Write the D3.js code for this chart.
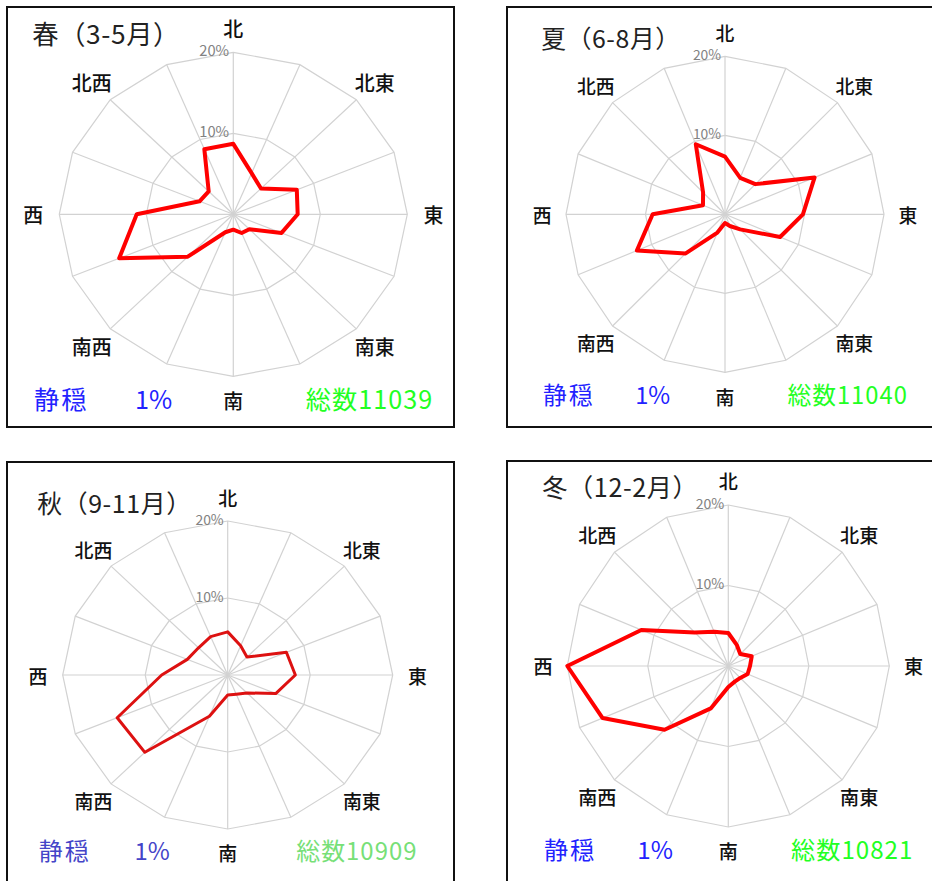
<!DOCTYPE html>
<html>
<head>
<meta charset="utf-8">
<script src="https://cdn.jsdelivr.net/npm/d3@7"></script>
<style>
  body { margin: 0; background: #fff; }
  svg { display: block; font-family: "Noto Sans CJK JP", "Noto Sans", sans-serif; }
</style>
</head>
<body>
<svg width="932" height="881"></svg>
<script>
// 16 directions clockwise from north, values in %
const dirLabels = ["北", "北東", "東", "南東", "南", "南西", "西", "北西"];
const seasonTitles = ["春（3-5月）", "夏（6-8月）", "秋（9-11月）", "冬（12-2月）"];
const totals = [11039, 11040, 10909, 10821];
const calmPct = [1, 1, 1, 1];
const ringTicks = [10, 20];

const spring = [8.7, 5.5, 4.5, 7.9, 7.4, 6.0, 2.6, 2.5, 1.9, 2.4, 7.4, 14.2, 11.1, 4.2, 4.0, 8.7];
const summer = [7.3, 5.0, 5.4, 12.2, 9.8, 7.5, 2.7, 1.6, 1.1, 2.5, 7.0, 12.0, 9.1, 3.0, 3.9, 9.6];
const autumn = [5.6, 4.1, 3.3, 7.7, 8.2, 6.3, 3.3, 2.7, 2.6, 5.8, 14.2, 14.5, 8.0, 5.3, 5.0, 5.4];
const winter = [4.1, 2.8, 2.1, 3.15, 2.7, 2.6, 2.1, 2.1, 2.6, 5.7, 11.2, 16.9, 20.0, 11.7, 5.9, 4.6];
const seasonValues = [spring, summer, autumn, winter];

// layout of the four pictures (each was scaled a little differently)
const panels = [
  {cx: 233.3, cy: 214.3, rx: 174, ry: 162, box: [7, 7, 454, 427], red: "#ff0000", blue: "#2222ff", green: "#22ff22", lw: 4},
  {cx: 725, cy: 214.3, rx: 159, ry: 158, box: [507, 7, 940, 427], red: "#ff0000", blue: "#2222ff", green: "#22ff22", lw: 4},
  {cx: 227.7, cy: 675, rx: 165, ry: 154, box: [7, 462, 454, 890], red: "#dd1111", blue: "#4444c8", green: "#77e077", lw: 3},
  {cx: 728.3, cy: 666, rx: 161, ry: 161, box: [507, 461, 940, 890], red: "#ff0000", blue: "#2222ff", green: "#22ff22", lw: 4}
];

const svg = d3.select("svg");
const angle = d3.scaleLinear().domain([0, 16]).range([0, 2 * Math.PI]);
const idx = d3.range(16);

panels.forEach(function(p, k) {
  const sx = d3.scaleLinear().domain([0, 20]).range([0, p.rx]);
  const sy = d3.scaleLinear().domain([0, 20]).range([0, p.ry]);
  const s = (p.rx + p.ry) / 320;
  const px = (v, i) => p.cx + sx(v) * Math.sin(angle(i));
  const py = (v, i) => p.cy - sy(v) * Math.cos(angle(i));

  const g = svg.append("g");

  g.append("rect")
    .attr("x", p.box[0]).attr("y", p.box[1])
    .attr("width", p.box[2] - p.box[0]).attr("height", p.box[3] - p.box[1])
    .attr("fill", "#fff").attr("stroke", "#111").attr("stroke-width", 2);

  // rings
  ringTicks.forEach(function(t) {
    const ring = d3.line()
      .x(i => px(t, i)).y(i => py(t, i))
      .curve(d3.curveLinearClosed);
    g.append("path").attr("d", ring(idx))
      .attr("fill", "none").attr("stroke", "#d2d2d2").attr("stroke-width", 1.2);
  });

  // spokes
  g.selectAll("line.spoke").data(idx).enter().append("line")
    .attr("x1", p.cx).attr("y1", p.cy)
    .attr("x2", i => px(20, i)).attr("y2", i => py(20, i))
    .attr("stroke", "#d2d2d2").attr("stroke-width", 1.2);

  // tick labels
  g.selectAll("text.tick").data(ringTicks).enter().append("text")
    .attr("x", p.cx - 4 * s).attr("y", t => py(t, 0))
    .attr("text-anchor", "end").attr("dominant-baseline", "middle")
    .attr("font-size", 14 * s).attr("fill", "#828282")
    .text(t => t + "%");

  // direction labels
  g.selectAll("text.dir").data(dirLabels).enter().append("text")
    .attr("x", (d, j) => px(23, j * 2)).attr("y", (d, j) => py(23, j * 2))
    .attr("text-anchor", "middle").attr("dominant-baseline", "central")
    .attr("font-size", 19 * s).attr("font-weight", 500).attr("fill", "#111")
    .text(d => d);

  // wind rose line
  const rose = d3.line()
    .x((v, i) => px(v, i)).y((v, i) => py(v, i))
    .curve(d3.curveLinearClosed);
  g.append("path").attr("d", rose(seasonValues[k]))
    .attr("fill", "none").attr("stroke", p.red)
    .attr("stroke-width", p.lw).attr("stroke-linejoin", "round");

  // title
  g.append("text")
    .attr("x", p.cx - 1.155 * p.rx).attr("y", p.cy - 1.05 * p.ry)
    .attr("font-size", 25 * s).attr("letter-spacing", 0.6 * s).attr("fill", "#222")
    .text(seasonTitles[k]);

  const by = p.cy + 1.2 * p.ry;
  g.append("text")
    .attr("x", p.cx - 1.145 * p.rx).attr("y", by)
    .attr("font-size", 24 * s).attr("letter-spacing", 2 * s).attr("fill", p.blue)
    .text("静穏");
  g.append("text")
    .attr("x", p.cx - 0.565 * p.rx).attr("y", by)
    .attr("font-size", 24 * s).attr("fill", p.blue)
    .text(calmPct[k] + "%");
  g.append("text")
    .attr("x", p.cx + 1.15 * p.rx).attr("y", by)
    .attr("text-anchor", "end")
    .attr("font-size", 24 * s).attr("letter-spacing", 1 * s).attr("fill", p.green)
    .text("総数" + totals[k]);
});
</script>
</body>
</html>
